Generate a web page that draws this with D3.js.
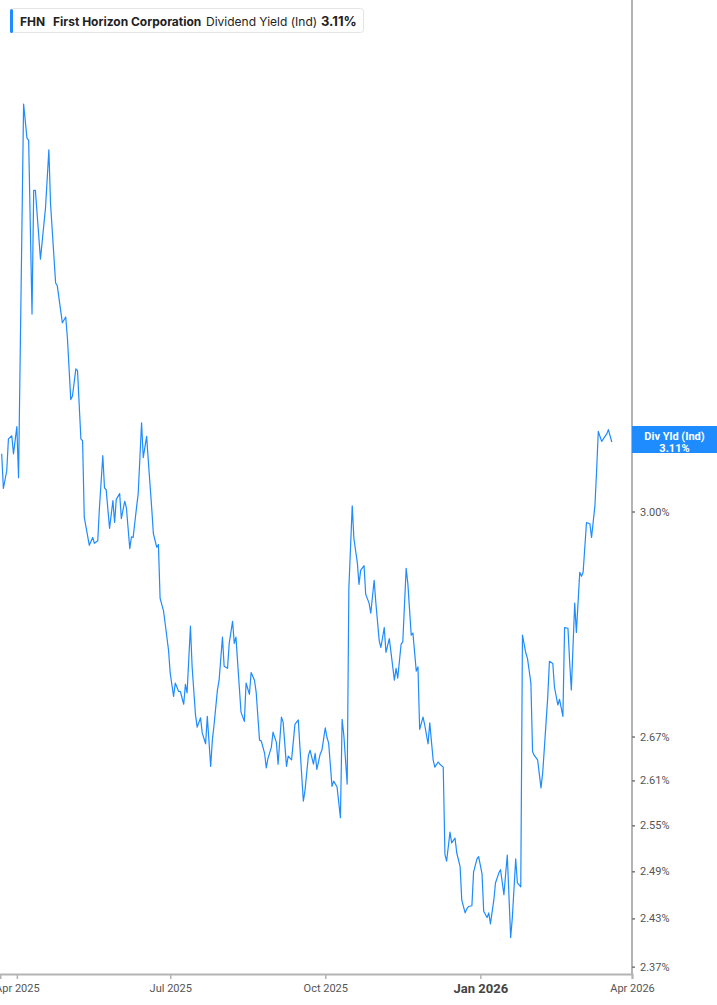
<!DOCTYPE html>
<html>
<head>
<meta charset="utf-8">
<script src="https://cdn.jsdelivr.net/npm/d3@7"></script>
<style>
  html, body { margin: 0; padding: 0; background: #fff; }
  svg { display: block; }
</style>
</head>
<body>
<div id="chart"></div>
<script>
var ticker = 'FHN';
var company = 'First Horizon Corporation';
var metric = 'Dividend Yield (Ind)';
var metricShort = 'Div Yld (Ind)';

var dates = [
  '2025-03-23', '2025-03-24', '2025-03-26', '2025-03-27', '2025-03-29', '2025-03-30', '2025-04-01', '2025-04-02', '2025-04-05', '2025-04-07',
  '2025-04-08', '2025-04-10', '2025-04-11', '2025-04-12', '2025-04-15', '2025-04-18', '2025-04-20', '2025-04-21', '2025-04-24', '2025-04-25',
  '2025-04-28', '2025-04-30', '2025-05-01', '2025-05-03', '2025-05-04', '2025-05-06', '2025-05-07', '2025-05-09', '2025-05-10', '2025-05-11',
  '2025-05-14', '2025-05-16', '2025-05-17', '2025-05-19', '2025-05-20', '2025-05-22', '2025-05-23', '2025-05-24', '2025-05-26', '2025-05-28',
  '2025-05-29', '2025-05-30', '2025-06-01', '2025-06-02', '2025-06-04', '2025-06-05', '2025-06-07', '2025-06-08', '2025-06-09', '2025-06-11',
  '2025-06-12', '2025-06-14', '2025-06-15', '2025-06-17', '2025-06-18', '2025-06-20', '2025-06-21', '2025-06-23', '2025-06-24', '2025-06-25',
  '2025-06-27', '2025-06-28', '2025-06-30', '2025-07-01', '2025-07-03', '2025-07-04', '2025-07-06', '2025-07-07', '2025-07-09', '2025-07-10',
  '2025-07-11', '2025-07-13', '2025-07-14', '2025-07-16', '2025-07-17', '2025-07-19', '2025-07-20', '2025-07-22', '2025-07-23', '2025-07-25',
  '2025-07-26', '2025-07-27', '2025-07-29', '2025-07-30', '2025-08-01', '2025-08-02', '2025-08-04', '2025-08-05', '2025-08-07', '2025-08-08',
  '2025-08-09', '2025-08-11', '2025-08-12', '2025-08-14', '2025-08-15', '2025-08-17', '2025-08-18', '2025-08-20', '2025-08-21', '2025-08-23',
  '2025-08-24', '2025-08-26', '2025-08-27', '2025-08-28', '2025-08-30', '2025-08-31', '2025-09-02', '2025-09-03', '2025-09-05', '2025-09-06',
  '2025-09-08', '2025-09-09', '2025-09-11', '2025-09-12', '2025-09-13', '2025-09-15', '2025-09-16', '2025-09-18', '2025-09-19', '2025-09-21',
  '2025-09-22', '2025-09-24', '2025-09-25', '2025-09-26', '2025-09-28', '2025-09-29', '2025-10-01', '2025-10-02', '2025-10-03', '2025-10-05',
  '2025-10-06', '2025-10-08', '2025-10-10', '2025-10-11', '2025-10-12', '2025-10-14', '2025-10-15', '2025-10-17', '2025-10-18', '2025-10-20',
  '2025-10-21', '2025-10-22', '2025-10-24', '2025-10-25', '2025-10-27', '2025-10-28', '2025-10-30', '2025-10-31', '2025-11-02', '2025-11-03',
  '2025-11-05', '2025-11-06', '2025-11-08', '2025-11-09', '2025-11-11', '2025-11-12', '2025-11-13', '2025-11-15', '2025-11-16', '2025-11-18',
  '2025-11-19', '2025-11-21', '2025-11-22', '2025-11-24', '2025-11-25', '2025-11-26', '2025-11-28', '2025-11-29', '2025-12-01', '2025-12-02',
  '2025-12-04', '2025-12-05', '2025-12-07', '2025-12-08', '2025-12-10', '2025-12-11', '2025-12-12', '2025-12-14', '2025-12-15', '2025-12-17',
  '2025-12-18', '2025-12-20', '2025-12-21', '2025-12-23', '2025-12-24', '2025-12-25', '2025-12-27', '2025-12-28', '2025-12-30', '2025-12-31',
  '2026-01-02', '2026-01-03', '2026-01-05', '2026-01-06', '2026-01-07', '2026-01-09', '2026-01-10', '2026-01-12', '2026-01-13', '2026-01-15',
  '2026-01-16', '2026-01-17', '2026-01-19', '2026-01-20', '2026-01-22', '2026-01-23', '2026-01-25', '2026-01-26', '2026-01-28', '2026-01-29',
  '2026-01-31', '2026-02-01', '2026-02-02', '2026-02-04', '2026-02-06', '2026-02-07', '2026-02-08', '2026-02-10', '2026-02-11', '2026-02-13',
  '2026-02-14', '2026-02-16', '2026-02-17', '2026-02-19', '2026-02-20', '2026-02-22', '2026-02-23', '2026-02-24', '2026-02-26', '2026-02-27',
  '2026-03-01', '2026-03-02', '2026-03-03', '2026-03-05', '2026-03-07', '2026-03-08', '2026-03-10', '2026-03-11', '2026-03-12', '2026-03-14',
  '2026-03-15', '2026-03-17', '2026-03-18', '2026-03-20'
];

var yields = [
  3.091, 3.036, 3.064, 3.115, 3.120, 3.091, 3.135, 3.053, 3.705, 3.640,
  3.636, 3.323, 3.543, 3.543, 3.419, 3.511, 3.618, 3.518, 3.377, 3.372,
  3.308, 3.318, 3.282, 3.179, 3.185, 3.230, 3.227, 3.115, 3.112, 2.991,
  2.948, 2.960, 2.951, 2.955, 3.006, 3.088, 3.037, 3.034, 2.974, 3.017,
  2.983, 3.019, 3.028, 2.989, 3.016, 3.006, 2.943, 2.961, 2.960, 3.006,
  3.028, 3.141, 3.085, 3.119, 3.080, 3.006, 2.966, 2.945, 2.949, 2.868,
  2.850, 2.831, 2.792, 2.759, 2.726, 2.745, 2.733, 2.733, 2.715, 2.743,
  2.731, 2.827, 2.768, 2.700, 2.683, 2.696, 2.675, 2.660, 2.698, 2.629,
  2.665, 2.686, 2.735, 2.749, 2.811, 2.769, 2.766, 2.802, 2.834, 2.802,
  2.811, 2.739, 2.704, 2.691, 2.745, 2.729, 2.760, 2.749, 2.732, 2.665,
  2.664, 2.647, 2.627, 2.640, 2.655, 2.676, 2.662, 2.632, 2.697, 2.690,
  2.629, 2.643, 2.638, 2.662, 2.687, 2.693, 2.654, 2.582, 2.597, 2.644,
  2.651, 2.632, 2.647, 2.625, 2.646, 2.651, 2.682, 2.669, 2.661, 2.602,
  2.609, 2.601, 2.560, 2.694, 2.672, 2.605, 2.883, 3.009, 2.958, 2.922,
  2.889, 2.910, 2.917, 2.874, 2.861, 2.846, 2.895, 2.862, 2.806, 2.796,
  2.825, 2.789, 2.809, 2.789, 2.749, 2.766, 2.752, 2.801, 2.804, 2.913,
  2.890, 2.814, 2.817, 2.762, 2.768, 2.680, 2.697, 2.686, 2.660, 2.689,
  2.638, 2.628, 2.635, 2.632, 2.628, 2.512, 2.503, 2.541, 2.527, 2.533,
  2.514, 2.496, 2.453, 2.437, 2.442, 2.445, 2.446, 2.489, 2.506, 2.509,
  2.487, 2.439, 2.431, 2.437, 2.423, 2.453, 2.475, 2.488, 2.492, 2.460,
  2.486, 2.511, 2.406, 2.431, 2.506, 2.475, 2.470, 2.814, 2.788, 2.780,
  2.745, 2.649, 2.644, 2.638, 2.600, 2.620, 2.654, 2.725, 2.776, 2.773,
  2.739, 2.714, 2.722, 2.698, 2.825, 2.824, 2.775, 2.735, 2.861, 2.818,
  2.907, 2.901, 2.907, 2.983, 2.981, 2.960, 3.009, 3.064, 3.127, 3.111,
  3.115, 3.123, 3.130, 3.110
];

var yTicks = [2.37, 2.43, 2.49, 2.55, 2.61, 2.67, 3.00];
var xTicks = ['2025-04-01', '2025-07-01', '2025-10-01', '2026-01-01', '2026-04-01'];
var xExtent = ['2025-03-22', '2026-04-01'];
var yExtent = [2.361, 3.91];

var model = {
  width: 717,
  height: 1005,
  plotRight: 632,
  plotBottom: 974,
  color: '#1e8bff',
  axisColor: '#b4b4b4',
  textColor: '#555',
};

draw(d3.select('#chart'), model);

function draw(el, model) {
  var parse = d3.timeParse('%Y-%m-%d');
  var data = dates.map(function (d, i) {
    return { date: parse(d), value: yields[i] };
  });
  var last = data[data.length - 1];

  var x = d3.scaleTime()
    .domain(xExtent.map(parse))
    .range([0, model.plotRight]);
  var y = d3.scaleLog()
    .domain(yExtent)
    .range([model.plotBottom, 0]);

  var svg = el.append('svg')
    .attr('width', model.width)
    .attr('height', model.height)
    .style('font-family', 'Roboto, "Liberation Sans", sans-serif');

  svg.append('clipPath').attr('id', 'plot-clip')
    .append('rect')
    .attr('width', model.plotRight)
    .attr('height', model.plotBottom);

  // series
  svg.append('path')
    .datum(data)
    .attr('clip-path', 'url(#plot-clip)')
    .attr('fill', 'none')
    .attr('stroke', model.color)
    .attr('stroke-width', 1.2)
    .attr('stroke-linejoin', 'round')
    .attr('d', d3.line()
      .x(function (d) { return x(d.date); })
      .y(function (d) { return y(d.value); }));

  // bottom axis (first label is clipped by the left edge, as in the source)
  var xAxis = svg.append('g')
    .attr('transform', 'translate(0,' + model.plotBottom + ')')
    .call(d3.axisBottom(x)
      .tickValues(xTicks.map(parse))
      .tickSize(5)
      .tickPadding(5)
      .tickFormat(d3.timeFormat('%b %Y')));
  xAxis.select('.domain')
    .attr('stroke', model.axisColor)
    .attr('stroke-width', 2);
  xAxis.selectAll('.tick line').attr('stroke', model.axisColor).attr('stroke-width', 1.5);
  xAxis.selectAll('.tick text')
    .attr('fill', model.textColor)
    .style('font-size', '11px')
    .style('font-family', 'Roboto, sans-serif')
    .filter(function (d) { return d.getMonth() === 0; })
    .style('font-size', '13px')
    .style('font-weight', 'bold')
    .attr('fill', '#444');

  // right axis
  var yAxis = svg.append('g')
    .attr('transform', 'translate(' + model.plotRight + ',0)')
    .call(d3.axisRight(y)
      .tickValues(yTicks)
      .tickSize(3)
      .tickPadding(5)
      .tickFormat(function (d) { return d.toFixed(2) + '%'; }));
  yAxis.select('.domain')
    .attr('d', 'M0,0V' + (model.plotBottom + 1))
    .attr('stroke', model.axisColor)
    .attr('stroke-width', 2);
  yAxis.selectAll('.tick line').attr('stroke', '#777').attr('stroke-width', 1.5);
  yAxis.selectAll('.tick text')
    .attr('fill', model.textColor)
    .style('font-size', '11px')
    .style('font-family', 'Roboto, sans-serif');

  // last value tag on the right axis
  var cy = y(last.value);
  var tag = svg.append('g');
  tag.append('rect')
    .attr('x', model.plotRight)
    .attr('y', cy - 16)
    .attr('width', model.width - model.plotRight)
    .attr('height', 27)
    .attr('fill', model.color);
  tag.append('text')
    .attr('x', (model.plotRight + model.width) / 2)
    .attr('y', cy - 2)
    .attr('text-anchor', 'middle')
    .attr('fill', '#fff')
    .style('font-size', '11px')
    .style('font-weight', 'bold')
    .text(metricShort);
  tag.append('text')
    .attr('x', (model.plotRight + model.width) / 2)
    .attr('y', cy + 10)
    .attr('text-anchor', 'middle')
    .attr('fill', '#fff')
    .style('font-size', '11px')
    .style('font-weight', 'bold')
    .text(last.value.toFixed(2) + '%');

  // legend
  var legend = svg.append('g')
    .style('font-family', 'Inter, "Noto Sans", sans-serif');
  legend.append('rect')
    .attr('x', 10.5).attr('y', 8.5)
    .attr('width', 353).attr('height', 24)
    .attr('rx', 3)
    .attr('fill', '#fff')
    .attr('stroke', '#e4e4e4');
  legend.append('rect')
    .attr('x', 10).attr('y', 9)
    .attr('width', 3).attr('height', 24)
    .attr('rx', 1.5)
    .attr('fill', model.color);
  var parts = [
    { text: ticker, x: 20, weight: 700, size: 12 },
    { text: company, x: 53, weight: 700, size: 12 },
    { text: metric, x: 206, weight: 400, size: 12 },
    { text: last.value.toFixed(2) + '%', x: 321, weight: 700, size: 13 },
  ];
  legend.selectAll('.legend-text')
    .data(parts)
  .enter()
    .append('text')
    .attr('class', 'legend-text')
    .attr('x', function (d) { return d.x; })
    .attr('y', 25.5)
    .attr('fill', '#222')
    .style('font-size', function (d) { return d.size + 'px'; })
    .style('font-weight', function (d) { return d.weight; })
    .text(function (d) { return d.text; });
}
</script>
</body>
</html>
